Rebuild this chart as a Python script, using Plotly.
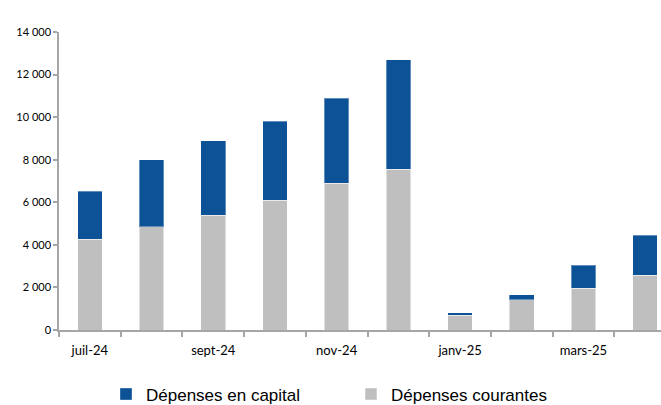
import plotly.graph_objects as go

# Monthly public spending, stacked: current spending + capital spending
mois = ["juil-24", "août-24", "sept-24", "oct-24", "nov-24", "déc-24",
        "janv-25", "févr-25", "mars-25", "avr-25"]
depenses_courantes = [4270, 4840, 5400, 6100, 6890, 7550, 690, 1410, 1970, 2580]
depenses_capital = [2240, 3170, 3500, 3700, 3990, 5150, 130, 240, 1070, 1880]

y_ticks = [0, 2000, 4000, 6000, 8000, 10000, 12000, 14000]

x = list(range(len(mois)))
# only every second month is labelled on the axis
label_idx = x[::2]
label_txt = [mois[i] for i in label_idx]

fig = go.Figure()
fig.add_trace(go.Bar(
    x=x, y=depenses_courantes, name="Dépenses courantes",
    marker=dict(color="#BFBFBF", line=dict(color="rgba(255,255,255,0.5)", width=1)),
))
fig.add_trace(go.Bar(
    x=x, y=depenses_capital, name="Dépenses en capital",
    marker=dict(color="#0D5296", line=dict(color="rgba(255,255,255,0.35)", width=1)),
))

axis_col = "#A6A6A6"
fig.update_layout(
    width=661, height=405,
    barmode="stack", bargap=0.6,
    separators=", ",
    plot_bgcolor="white", paper_bgcolor="white",
    margin=dict(l=59, r=0, t=32, b=75, autoexpand=False),
    font=dict(family="Liberation Sans, Arial, sans-serif", color="#000000"),
    showlegend=True,
    legend=dict(
        orientation="h", traceorder="reversed",
        xref="container", yref="container",
        x=106 / 661, xanchor="left",
        y=0.026, yanchor="middle",
        font=dict(size=17), itemwidth=30, entrywidth=200,
    ),
    xaxis=dict(
        range=[-0.5, 9.257],
        tickmode="array", tickvals=label_idx, ticktext=label_txt,
        ticks="", tickangle=0,
        tickfont=dict(size=13, family="Lato, Liberation Sans, sans-serif"),
        showline=True, linecolor=axis_col, linewidth=1.5,
        showgrid=False, zeroline=False,
        minor=dict(tickmode="linear", tick0=-0.5, dtick=1, ticks="outside",
                   ticklen=5, tickcolor=axis_col, tickwidth=1.5),
        ticklabelstandoff=8,
    ),
    yaxis=dict(
        range=[0, 14000],
        tickmode="array", tickvals=y_ticks, tickformat=",d",
        ticks="outside", ticklen=4, tickcolor=axis_col, tickwidth=1.5,
        tickfont=dict(size=11, family="Lato, Liberation Sans, sans-serif"),
        showline=True, linecolor=axis_col, linewidth=1.5,
        showgrid=False, zeroline=False,
    ),
)

fig.write_html("out.html")
